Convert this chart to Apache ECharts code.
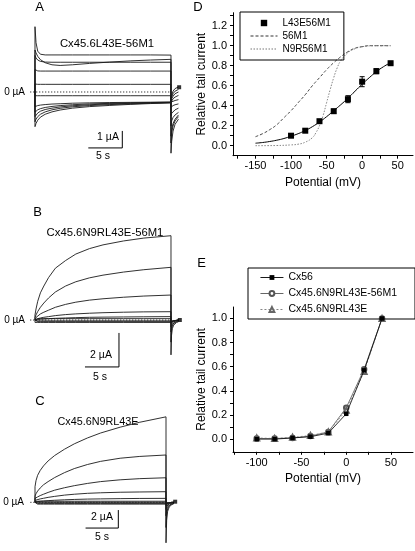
<!DOCTYPE html>
<html><head><meta charset="utf-8">
<script src="https://cdn.jsdelivr.net/npm/echarts@6/dist/echarts.min.js"></script>
<style>html,body{margin:0;padding:0;background:#fff}#c{width:415px;height:551px}</style>
</head><body><div id="c"></div>
<script>
const F = '"Liberation Sans", Arial, sans-serif';
const FN = '"Liberation Sans Narrow", "Liberation Sans", Arial, sans-serif';

// ---------- Panel A (Cx45.6L43E-56M1) : time (s), current (µA) ----------
const aTime = [0, 0.15, 0.4, 0.8, 1.5, 2.5, 3.7, 5.5, 8, 11, 14, 17, 20];
const aTraces = [
  [3.84, 2.9, 2.4, 2.22, 2.18, 2.18, 2.18, 2.18, 2.18, 2.18, 2.18, 2.18, 2.17],
  [2.47, 2.3, 2.1, 1.9, 1.72, 1.6, 1.56, 1.6, 1.68, 1.76, 1.83, 1.88, 1.92],
  [2.15, 2.0, 1.88, 1.8, 1.76, 1.75, 1.75, 1.75, 1.75, 1.75, 1.75, 1.75, 1.75],
  [1.32, 1.27, 1.24, 1.23, 1.23, 1.23, 1.23, 1.23, 1.23, 1.23, 1.23, 1.23, 1.23],
  [0.47, 0.46, 0.45, 0.45, 0.45, 0.45, 0.45, 0.45, 0.45, 0.45, 0.45, 0.45, 0.45],
  [-0.22, -0.22, -0.22, -0.22, -0.22, -0.22, -0.22, -0.22, -0.22, -0.22, -0.22, -0.22, -0.22],
  [-0.86, -0.83, -0.8, -0.77, -0.74, -0.71, -0.69, -0.66, -0.64, -0.62, -0.61, -0.6, -0.59],
  [-1.19, -1.12, -1.05, -0.98, -0.91, -0.85, -0.8, -0.75, -0.7, -0.67, -0.64, -0.62, -0.6],
  [-1.45, -1.34, -1.24, -1.13, -1.03, -0.95, -0.88, -0.81, -0.75, -0.7, -0.67, -0.64, -0.62],
  [-1.75, -1.6, -1.45, -1.31, -1.17, -1.05, -0.96, -0.87, -0.8, -0.74, -0.7, -0.66, -0.63],
  [-2.04, -1.85, -1.66, -1.48, -1.31, -1.17, -1.06, -0.95, -0.86, -0.79, -0.73, -0.68, -0.64]
];
const aTailTime = [20, 20.1, 20.3, 20.6, 21.1];
const aTails = [
  [-3.6, -2.9, -2.3, -1.9, -1.6],
  [-3.0, -2.4, -2.0, -1.7, -1.45],
  [-2.6, -2.2, -1.85, -1.6, -1.35],
  [-2.0, -1.7, -1.5, -1.35, -1.2],
  [-1.4, -1.25, -1.15, -1.05, -0.95],
  [-0.9, -0.85, -0.8, -0.75, -0.7],
  [-0.7, -0.62, -0.55, -0.5, -0.45],
  [-0.6, -0.5, -0.4, -0.3, -0.2],
  [-0.55, -0.4, -0.25, -0.1, 0.0],
  [-0.5, -0.3, -0.1, 0.05, 0.15],
  [-0.5, -0.2, 0.05, 0.2, 0.3]
];
const aMarker = [21.2, 0.28];
const aScale = { t: 7.84, i: -3.29, dt: 5, di: 1 };

// ---------- Panel B (Cx45.6N9RL43E-56M1) ----------
const bTime = [0, 0.15, 0.4, 0.8, 1.3, 2, 3, 4.5, 6, 8, 10, 13, 16, 20];
const bTraces = [
  [0.3, 0.65, 1.1, 1.6, 2.0, 2.5, 3.05, 3.5, 3.88, 4.2, 4.42, 4.65, 4.82, 4.96],
  [0.15, 0.3, 0.5, 0.75, 1.0, 1.3, 1.65, 2.0, 2.25, 2.48, 2.64, 2.82, 2.96, 3.1],
  [0.08, 0.15, 0.25, 0.36, 0.46, 0.58, 0.75, 0.92, 1.05, 1.17, 1.25, 1.34, 1.41, 1.47],
  [0.03, 0.05, 0.08, 0.12, 0.16, 0.2, 0.26, 0.32, 0.36, 0.4, 0.43, 0.46, 0.48, 0.49],
  [0.0, 0.02, 0.03, 0.05, 0.06, 0.08, 0.1, 0.12, 0.14, 0.16, 0.17, 0.18, 0.19, 0.2],
  [0.08, 0.08, 0.08, 0.08, 0.08, 0.08, 0.08, 0.08, 0.08, 0.08, 0.08, 0.08, 0.08, 0.08],
  [-0.05, -0.05, -0.05, -0.05, -0.05, -0.05, -0.05, -0.05, -0.05, -0.05, -0.05, -0.05, -0.05, -0.05],
  [-0.1, -0.1, -0.1, -0.1, -0.1, -0.1, -0.1, -0.1, -0.1, -0.1, -0.1, -0.1, -0.1, -0.1],
  [-0.14, -0.14, -0.14, -0.14, -0.14, -0.14, -0.14, -0.14, -0.14, -0.14, -0.14, -0.14, -0.14, -0.14]
];
const bTailTime = [20, 20.08, 20.2, 20.4, 20.8, 21.1];
const bTails = [
  [-2.05, -0.9, -0.5, -0.3, -0.15, -0.1],
  [-1.3, -0.6, -0.35, -0.2, -0.1, -0.05],
  [-0.7, -0.4, -0.25, -0.15, -0.08, -0.04],
  [-0.4, -0.25, -0.15, -0.1, -0.05, -0.02],
  [-0.2, -0.15, -0.1, -0.06, -0.03, 0.0],
  [-0.12, -0.1, -0.07, -0.05, -0.02, 0.0],
  [-0.1, -0.08, -0.06, -0.04, -0.02, 0.0],
  [-0.1, -0.08, -0.06, -0.04, -0.02, 0.0],
  [-0.14, -0.1, -0.06, -0.04, -0.02, 0.0]
];
const bMarker = [21.3, 0.0];
const bScale = { t: 7.35, i: -2.76, dt: 5, di: 2 };

// ---------- Panel C (Cx45.6N9RL43E) ----------
const cTime = [0, 0.15, 0.4, 0.8, 1.3, 2, 3, 4.5, 6, 8, 10, 13, 16, 20];
const cTraces = [
  [1.73, 2.4, 3.0, 3.55, 4.05, 4.6, 5.2, 5.9, 6.5, 7.15, 7.7, 8.35, 8.9, 9.5],
  [0.7, 0.95, 1.25, 1.6, 1.95, 2.3, 2.75, 3.3, 3.75, 4.2, 4.55, 4.9, 5.1, 5.26],
  [0.44, 0.5, 0.6, 0.75, 0.9, 1.1, 1.35, 1.62, 1.85, 2.1, 2.3, 2.5, 2.63, 2.73],
  [0.2, 0.25, 0.3, 0.38, 0.45, 0.55, 0.66, 0.8, 0.9, 1.0, 1.06, 1.12, 1.15, 1.18],
  [0.05, 0.07, 0.09, 0.12, 0.15, 0.19, 0.23, 0.28, 0.32, 0.36, 0.38, 0.41, 0.43, 0.44],
  [0.12, 0.12, 0.12, 0.12, 0.12, 0.12, 0.12, 0.12, 0.12, 0.12, 0.12, 0.12, 0.12, 0.12],
  [0.0, 0.0, 0.0, 0.0, 0.0, 0.0, 0.0, 0.0, 0.0, 0.0, 0.0, 0.0, 0.0, 0.0],
  [-0.12, -0.12, -0.12, -0.12, -0.12, -0.12, -0.12, -0.12, -0.12, -0.12, -0.12, -0.12, -0.12, -0.12],
  [-0.2, -0.2, -0.2, -0.2, -0.2, -0.2, -0.2, -0.2, -0.2, -0.2, -0.2, -0.2, -0.2, -0.2]
];
const cTailTime = [20, 20.1, 20.25, 20.5, 20.9, 21.2];
const cTails = [
  [-4.5, -2.0, -1.0, -0.5, -0.25, -0.15],
  [-2.8, -1.3, -0.7, -0.35, -0.2, -0.1],
  [-1.5, -0.8, -0.45, -0.25, -0.12, -0.06],
  [-0.8, -0.45, -0.3, -0.15, -0.08, -0.03],
  [-0.4, -0.3, -0.2, -0.1, -0.05, 0.0],
  [-0.2, -0.15, -0.1, -0.05, 0.0, 0.0],
  [-0.2, -0.15, -0.1, -0.05, 0.0, 0.0],
  [-0.2, -0.15, -0.1, -0.05, 0.0, 0.0],
  [-0.2, -0.15, -0.1, -0.05, 0.0, 0.0]
];
const cMarker = [21.4, 0.07];
const cScale = { t: 7.72, i: -2.86, dt: 5, di: 2 };

// ---------- Panel D ----------
const dV = [-100, -80, -60, -40, -20, 0, 20, 40];
const dL43E56M1 = [0.10, 0.15, 0.245, 0.345, 0.465, 0.64, 0.745, 0.825];
const dErr = [0.015, 0.015, 0.015, 0.02, 0.035, 0.05, 0.025, 0.01];
const dFitV = [-150, -140, -130, -120, -110, -100, -90, -80, -70, -60, -50, -40, -30, -20, -10, 0, 10, 20, 30, 40];
const dFitY = [0.025, 0.032, 0.042, 0.055, 0.072, 0.095, 0.12, 0.152, 0.19, 0.237, 0.29, 0.35, 0.41, 0.475, 0.545, 0.615, 0.68, 0.74, 0.79, 0.83];
const d56V = [-150, -140, -130, -120, -110, -100, -90, -80, -70, -60, -50, -40, -30, -20, -10, 0, 10, 20, 40];
const d56Y = [0.09, 0.12, 0.16, 0.21, 0.28, 0.35, 0.43, 0.51, 0.6, 0.68, 0.76, 0.83, 0.89, 0.94, 0.975, 0.99, 1.0, 1.0, 1.0];
const dN9RV = [-150, -120, -100, -90, -80, -70, -65, -60, -55, -50, -45, -40, -35, -30, -20, -10, 0, 20, 40];
const dN9RY = [0.0, 0.002, 0.008, 0.015, 0.035, 0.08, 0.13, 0.2, 0.3, 0.43, 0.56, 0.68, 0.78, 0.85, 0.93, 0.97, 0.99, 1.0, 1.0];
const dXTicks = [-175, -150, -125, -100, -75, -50, -25, 0, 25, 50];
const dXLabels = [-150, -100, -50, 0, 50];
const dYTicks = [0, 0.1, 0.2, 0.3, 0.4, 0.5, 0.6, 0.7, 0.8, 0.9, 1.0, 1.1, 1.2, 1.3];
const dYLabels = [0, 0.2, 0.4, 0.6, 0.8, 1.0, 1.2];

// ---------- Panel E ----------
const eV = [-100, -80, -60, -40, -20, 0, 20, 40];
const eCx56 = [0.0, 0.0, 0.01, 0.02, 0.05, 0.21, 0.57, 1.0];
const eN9RL43E56M1 = [0.005, 0.005, 0.01, 0.025, 0.06, 0.26, 0.58, 1.0];
const eN9RL43E = [0.01, 0.005, 0.015, 0.03, 0.06, 0.24, 0.56, 1.0];
const eXTicks = [-125, -100, -75, -50, -25, 0, 25, 50];
const eXLabels = [-100, -50, 0, 50];
const eYTicks = [0, 0.1, 0.2, 0.3, 0.4, 0.5, 0.6, 0.7, 0.8, 0.9, 1.0];
const eYLabels = [0, 0.2, 0.4, 0.6, 0.8, 1.0];

// ---------- build ----------
const zip = (xs, ys) => xs.map((x, i) => [x, ys[i]]);
const series = [];

function tracePanel(idx, time, traces, tailTime, tails, marker, scale) {
  series.push({ type: 'line', xAxisIndex: idx, yAxisIndex: idx, data: [[-0.7, 0], [20, 0]],
    symbol: 'none', lineStyle: { color: '#000', width: 1, type: [1, 2] }, z: 1, silent: true });
  traces.forEach((tr, k) => {
    const data = [[0, 0]].concat(zip(time, tr)).concat(zip(tailTime, tails[k]));
    series.push({ type: 'line', xAxisIndex: idx, yAxisIndex: idx, data, symbol: 'none',
      lineStyle: { color: '#1a1a1a', width: 0.9 }, z: 2, silent: true });
  });
  series.push({ type: 'scatter', xAxisIndex: idx, yAxisIndex: idx, data: [marker], symbol: 'rect',
    symbolSize: 4, itemStyle: { color: '#000' }, silent: true });
  series.push({ type: 'line', xAxisIndex: idx, yAxisIndex: idx, symbol: 'none', silent: true,
    data: [[scale.t, scale.i], [scale.t + scale.dt, scale.i], [scale.t + scale.dt, scale.i + scale.di]],
    lineStyle: { color: '#000', width: 1 } });
}

// Panel D series (axis index 0)
series.push({ name: 'L43E56M1 fit', type: 'line', xAxisIndex: 0, yAxisIndex: 0, data: zip(dFitV, dFitY),
  symbol: 'none', smooth: true, lineStyle: { color: '#000', width: 1 }, z: 2, silent: true });
series.push({ name: '56M1', type: 'line', xAxisIndex: 0, yAxisIndex: 0, data: zip(d56V, d56Y),
  symbol: 'none', smooth: true, lineStyle: { color: '#333', width: 0.9, type: [3, 2] }, itemStyle: { color: '#333' }, silent: true });
series.push({ name: 'N9R56M1', type: 'line', xAxisIndex: 0, yAxisIndex: 0, data: zip(dN9RV, dN9RY),
  symbol: 'none', smooth: true, lineStyle: { color: '#777', width: 0.9, type: [1.5, 1.5] }, itemStyle: { color: '#777' }, silent: true });
series.push({ type: 'custom', xAxisIndex: 0, yAxisIndex: 0, silent: true, z: 3,
  data: dV.map((v, i) => [v, dL43E56M1[i] - dErr[i], dL43E56M1[i] + dErr[i]]),
  encode: { x: 0, y: [1, 2] },
  renderItem(params, api) {
    const x = api.value(0);
    const lo = api.coord([x, api.value(1)]), hi = api.coord([x, api.value(2)]);
    const w = 2.5, st = { stroke: '#000', lineWidth: 1 };
    return { type: 'group', children: [
      { type: 'line', shape: { x1: lo[0], y1: lo[1], x2: hi[0], y2: hi[1] }, style: st },
      { type: 'line', shape: { x1: lo[0] - w, y1: lo[1], x2: lo[0] + w, y2: lo[1] }, style: st },
      { type: 'line', shape: { x1: hi[0] - w, y1: hi[1], x2: hi[0] + w, y2: hi[1] }, style: st }
    ] };
  } });
series.push({ name: 'L43E56M1', type: 'line', xAxisIndex: 0, yAxisIndex: 0, data: zip(dV, dL43E56M1),
  symbol: 'rect', symbolSize: 6, itemStyle: { color: '#000' }, lineStyle: { width: 0, opacity: 0 }, z: 4, silent: true });

// Panel E series (axis index 1)
series.push({ name: 'Cx56', type: 'line', xAxisIndex: 1, yAxisIndex: 1, data: zip(eV, eCx56),
  symbol: 'rect', symbolSize: 4.5, itemStyle: { color: '#000' }, lineStyle: { color: '#000', width: 0.8 }, z: 4, silent: true });
series.push({ name: 'Cx45.6N9RL43E-56M1', type: 'line', xAxisIndex: 1, yAxisIndex: 1, data: zip(eV, eN9RL43E56M1),
  symbol: 'emptyCircle', symbolSize: 4.5, itemStyle: { color: '#555', borderWidth: 0.7 }, lineStyle: { color: '#555', width: 0.8 }, z: 3, silent: true });
series.push({ name: 'Cx45.6N9RL43E', type: 'line', xAxisIndex: 1, yAxisIndex: 1, data: zip(eV, eN9RL43E),
  symbol: 'emptyTriangle', symbolSize: 5, itemStyle: { color: '#666', borderWidth: 0.7 }, lineStyle: { color: '#777', width: 0.8, type: [2, 2] }, z: 3, silent: true });

tracePanel(2, aTime, aTraces, aTailTime, aTails, aMarker, aScale);
tracePanel(3, bTime, bTraces, bTailTime, bTails, bMarker, bScale);
tracePanel(4, cTime, cTraces, cTailTime, cTails, cMarker, cScale);

const axisCommon = {
  type: 'value', splitLine: { show: false },
  axisLine: { show: true, onZero: false, lineStyle: { color: '#000', width: 1 } },
};
const hiddenAxis = (g, min, max) => ({ type: 'value', gridIndex: g, min, max, show: false, splitLine: { show: false } });

const option = {
  animation: false,
  backgroundColor: '#fff',
  grid: [
    { left: 233, top: 12.7, width: 180, height: 143 },
    { left: 233, top: 307, width: 180, height: 144.8 },
    { left: 25, top: 25, width: 160, height: 135 },
    { left: 25, top: 225, width: 160, height: 145 },
    { left: 25, top: 410, width: 160, height: 141 }
  ],
  xAxis: [
    Object.assign({}, axisCommon, { gridIndex: 0, min: -181.6, max: 71.5,
      axisTick: { show: true, length: 3, customValues: dXTicks, lineStyle: { color: '#000' } },
      axisLabel: { customValues: dXLabels, fontFamily: FN, fontSize: 11, color: '#000', margin: 5 },
      name: 'Potential (mV)', nameLocation: 'middle', nameGap: 21,
      nameTextStyle: { fontFamily: F, fontSize: 12, color: '#000' } }),
    Object.assign({}, axisCommon, { gridIndex: 1, min: -126.5, max: 74.6,
      axisTick: { show: true, length: 3, customValues: eXTicks, lineStyle: { color: '#000' } },
      axisLabel: { customValues: eXLabels, fontFamily: FN, fontSize: 11, color: '#000', margin: 6 },
      name: 'Potential (mV)', nameLocation: 'middle', nameGap: 21,
      nameTextStyle: { fontFamily: F, fontSize: 12, color: '#000' } }),
    hiddenAxis(2, -1.47, 22.06),
    hiddenAxis(3, -1.47, 22.06),
    hiddenAxis(4, -1.527, 22.9)
  ],
  yAxis: [
    Object.assign({}, axisCommon, { gridIndex: 0, min: -0.1, max: 1.33,
      axisTick: { show: true, length: 3, customValues: dYTicks, lineStyle: { color: '#000' } },
      axisLabel: { customValues: dYLabels, formatter: v => v.toFixed(1), fontFamily: FN, fontSize: 11, color: '#000', margin: 6 },
      name: 'Relative tail current', nameLocation: 'middle', nameGap: 25, nameRotate: 90,
      nameTextStyle: { fontFamily: F, fontSize: 12, color: '#000' } }),
    Object.assign({}, axisCommon, { gridIndex: 1, min: -0.105, max: 1.095,
      axisTick: { show: true, length: 3, customValues: eYTicks, lineStyle: { color: '#000' } },
      axisLabel: { customValues: eYLabels, formatter: v => v.toFixed(1), fontFamily: FN, fontSize: 11, color: '#000', margin: 6 },
      name: 'Relative tail current', nameLocation: 'middle', nameGap: 25, nameRotate: 90,
      nameTextStyle: { fontFamily: F, fontSize: 12, color: '#000' } }),
    hiddenAxis(2, -4.0, 3.94),
    hiddenAxis(3, -2.94, 5.59),
    hiddenAxis(4, -5.41, 10.26)
  ],
  legend: [
    { data: [
        { name: 'L43E56M1', lineStyle: { opacity: 0 } },
        { name: '56M1', itemStyle: { opacity: 0 }, lineStyle: { width: 1 } },
        { name: 'N9R56M1', itemStyle: { opacity: 0 }, lineStyle: { width: 1 } }
      ],
      orient: 'vertical', left: 240, top: 12, itemWidth: 27, itemHeight: 8, itemGap: 3,
      padding: [6, 13, 6, 10], borderColor: '#000', borderWidth: 1, borderRadius: 0,
      selectedMode: false, textStyle: { fontFamily: FN, fontSize: 10, color: '#000' } },
    { data: [
        { name: 'Cx56', lineStyle: { width: 0.9 } },
        { name: 'Cx45.6N9RL43E-56M1', lineStyle: { width: 0.9 }, itemStyle: { borderWidth: 0.8 } },
        { name: 'Cx45.6N9RL43E', lineStyle: { width: 0.9 }, itemStyle: { borderWidth: 0.8 } }
      ],
      orient: 'vertical', left: 248, top: 268, itemWidth: 23, itemHeight: 6, itemGap: 5,
      padding: [4, 18, 4, 12], borderColor: '#000', borderWidth: 1, borderRadius: 0,
      selectedMode: false, textStyle: { fontFamily: FN, fontSize: 10.5, color: '#000' } }
  ],
  graphic: [
    { type: 'text', style: { text: 'A', x: 39.5, y: 7, font: '13px ' + F, textAlign: 'center', textVerticalAlign: 'middle', fill: '#000' } },
    { type: 'text', style: { text: 'D', x: 198, y: 7, font: '13px ' + F, textAlign: 'center', textVerticalAlign: 'middle', fill: '#000' } },
    { type: 'text', style: { text: 'B', x: 37.5, y: 212.5, font: '13px ' + F, textAlign: 'center', textVerticalAlign: 'middle', fill: '#000' } },
    { type: 'text', style: { text: 'C', x: 40, y: 401.5, font: '13px ' + F, textAlign: 'center', textVerticalAlign: 'middle', fill: '#000' } },
    { type: 'text', style: { text: 'E', x: 201.5, y: 263, font: '13px ' + F, textAlign: 'center', textVerticalAlign: 'middle', fill: '#000' } },
    { type: 'text', style: { text: 'Cx45.6L43E-56M1', x: 107, y: 44, font: '11.3px ' + F, textAlign: 'center', textVerticalAlign: 'middle', fill: '#000' } },
    { type: 'text', style: { text: 'Cx45.6N9RL43E-56M1', x: 105, y: 233, font: '11.3px ' + F, textAlign: 'center', textVerticalAlign: 'middle', fill: '#000' } },
    { type: 'text', style: { text: 'Cx45.6N9RL43E', x: 98, y: 422, font: '10.8px ' + F, textAlign: 'center', textVerticalAlign: 'middle', fill: '#000' } },
    { type: 'text', style: { text: '0 µA', x: 25, y: 92, font: '10px ' + F, textAlign: 'right', textVerticalAlign: 'middle', fill: '#000' } },
    { type: 'text', style: { text: '0 µA', x: 25, y: 320, font: '10px ' + F, textAlign: 'right', textVerticalAlign: 'middle', fill: '#000' } },
    { type: 'text', style: { text: '0 µA', x: 24, y: 502, font: '10px ' + F, textAlign: 'right', textVerticalAlign: 'middle', fill: '#000' } },
    { type: 'text', style: { text: '1 µA', x: 108, y: 137, font: '10.5px ' + F, textAlign: 'center', textVerticalAlign: 'middle', fill: '#000' } },
    { type: 'text', style: { text: '5 s', x: 103, y: 156, font: '10.5px ' + F, textAlign: 'center', textVerticalAlign: 'middle', fill: '#000' } },
    { type: 'text', style: { text: '2 µA', x: 101, y: 355, font: '10.5px ' + F, textAlign: 'center', textVerticalAlign: 'middle', fill: '#000' } },
    { type: 'text', style: { text: '5 s', x: 100, y: 377, font: '10.5px ' + F, textAlign: 'center', textVerticalAlign: 'middle', fill: '#000' } },
    { type: 'text', style: { text: '2 µA', x: 102, y: 517, font: '10.5px ' + F, textAlign: 'center', textVerticalAlign: 'middle', fill: '#000' } },
    { type: 'text', style: { text: '5 s', x: 102, y: 537, font: '10.5px ' + F, textAlign: 'center', textVerticalAlign: 'middle', fill: '#000' } }
  ],
  series
};

const chart = echarts.init(document.getElementById('c'), null, { renderer: 'canvas' });
chart.setOption(option);
</script></body></html>
